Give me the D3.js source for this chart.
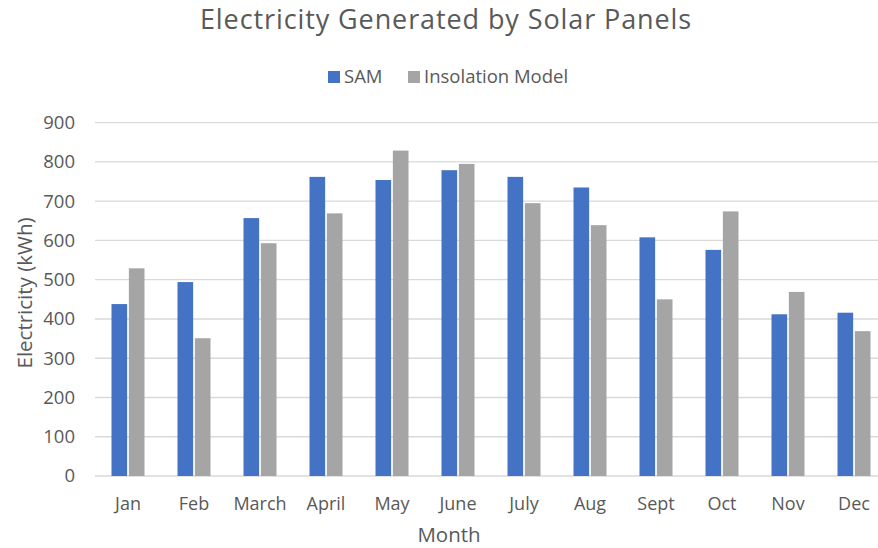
<!DOCTYPE html>
<html>
<head>
<meta charset="utf-8">
<script src="https://cdn.jsdelivr.net/npm/d3@7"></script>
<style>
  html, body { margin: 0; padding: 0; background: #fff; }
  svg { display: block; font-family: "Open Sans", "Noto Sans", sans-serif; }
</style>
</head>
<body>
<svg id="chart" width="878" height="548"></svg>
<script>
const months = ["Jan","Feb","March","April","May","June","July","Aug","Sept","Oct","Nov","Dec"];
const samValues = [438, 494, 657, 762, 754, 779, 762, 735, 608, 576, 412, 416];
const insolationValues = [529, 351, 593, 669, 829, 795, 695, 639, 450, 674, 469, 369];
const seriesNames = ["SAM", "Insolation Model"];
const seriesColors = ["#4472C4", "#A5A5A5"];
const yTicks = [0, 100, 200, 300, 400, 500, 600, 700, 800, 900];

const svg = d3.select("#chart");
const x0 = 95, x1 = 887, yTop = 122.7, yBot = 476;

const x = d3.scaleBand().domain(months).range([x0, x1]).paddingInner(0.5).paddingOuter(0.25);
const xs = d3.scaleBand().domain(seriesNames).range([0, x.bandwidth()]).paddingInner(0.1);
const y = d3.scaleLinear().domain([0, 900]).range([yBot, yTop]);

const textColor = "#595959";

// gridlines
svg.append("g").selectAll("line").data(yTicks).join("line")
  .attr("x1", x0).attr("x2", x1)
  .attr("y1", d => y(d)).attr("y2", d => y(d))
  .attr("stroke", "#D9D9D9").attr("stroke-width", 1.3);

// y tick labels
const yAxis = d3.axisLeft(y).tickValues(yTicks).tickSize(0).tickPadding(0);
const gy = svg.append("g").attr("transform", `translate(75,0)`).call(yAxis);
gy.select(".domain").remove();
gy.selectAll("text").attr("fill", textColor).style("font-size", "18.5px")
  .style("font-family", '"Open Sans", sans-serif');

// bars
const data = months.map((m, i) => ({ month: m, values: [samValues[i], insolationValues[i]] }));
const groups = svg.append("g").selectAll("g").data(data).join("g")
  .attr("transform", d => `translate(${x(d.month)},0)`);
groups.selectAll("rect").data(d => d.values.map((v, j) => ({ key: seriesNames[j], v, j })))
  .join("rect")
  .attr("x", d => xs(d.key))
  .attr("width", xs.bandwidth())
  .attr("y", d => y(d.v))
  .attr("height", d => y(0) - y(d.v))
  .attr("fill", d => seriesColors[d.j]);

// x axis labels
const xAxis = d3.axisBottom(x).tickSize(0).tickPadding(0);
const gx = svg.append("g").attr("transform", `translate(0,${yBot + 34})`).call(xAxis);
gx.select(".domain").remove();
gx.selectAll("text").attr("fill", textColor).attr("dy", 0).style("font-size", "18px")
  .style("font-family", '"Open Sans", sans-serif');

// title
svg.append("text").attr("x", 446).attr("y", 29).attr("text-anchor", "middle")
  .attr("fill", textColor).style("font-size", "27px").style("letter-spacing", "0.9px")
  .text("Electricity Generated by Solar Panels");

// legend
const legend = svg.append("g");
const legX = [328, 408];
seriesNames.forEach((name, i) => {
  legend.append("rect").attr("x", legX[i]).attr("y", 71).attr("width", 12).attr("height", 12)
    .attr("fill", seriesColors[i]);
  legend.append("text").attr("x", legX[i] + 16).attr("y", 83).attr("fill", textColor)
    .style("font-size", "18.5px").text(name);
});

// axis titles
svg.append("text").attr("x", 449).attr("y", 542).attr("text-anchor", "middle")
  .attr("fill", textColor).style("font-size", "20.5px").text("Month");
svg.append("text").attr("transform", "translate(32,293) rotate(-90)").attr("text-anchor", "middle")
  .attr("fill", textColor).style("font-size", "20.5px").text("Electricity (kWh)");
</script>
</body>
</html>
